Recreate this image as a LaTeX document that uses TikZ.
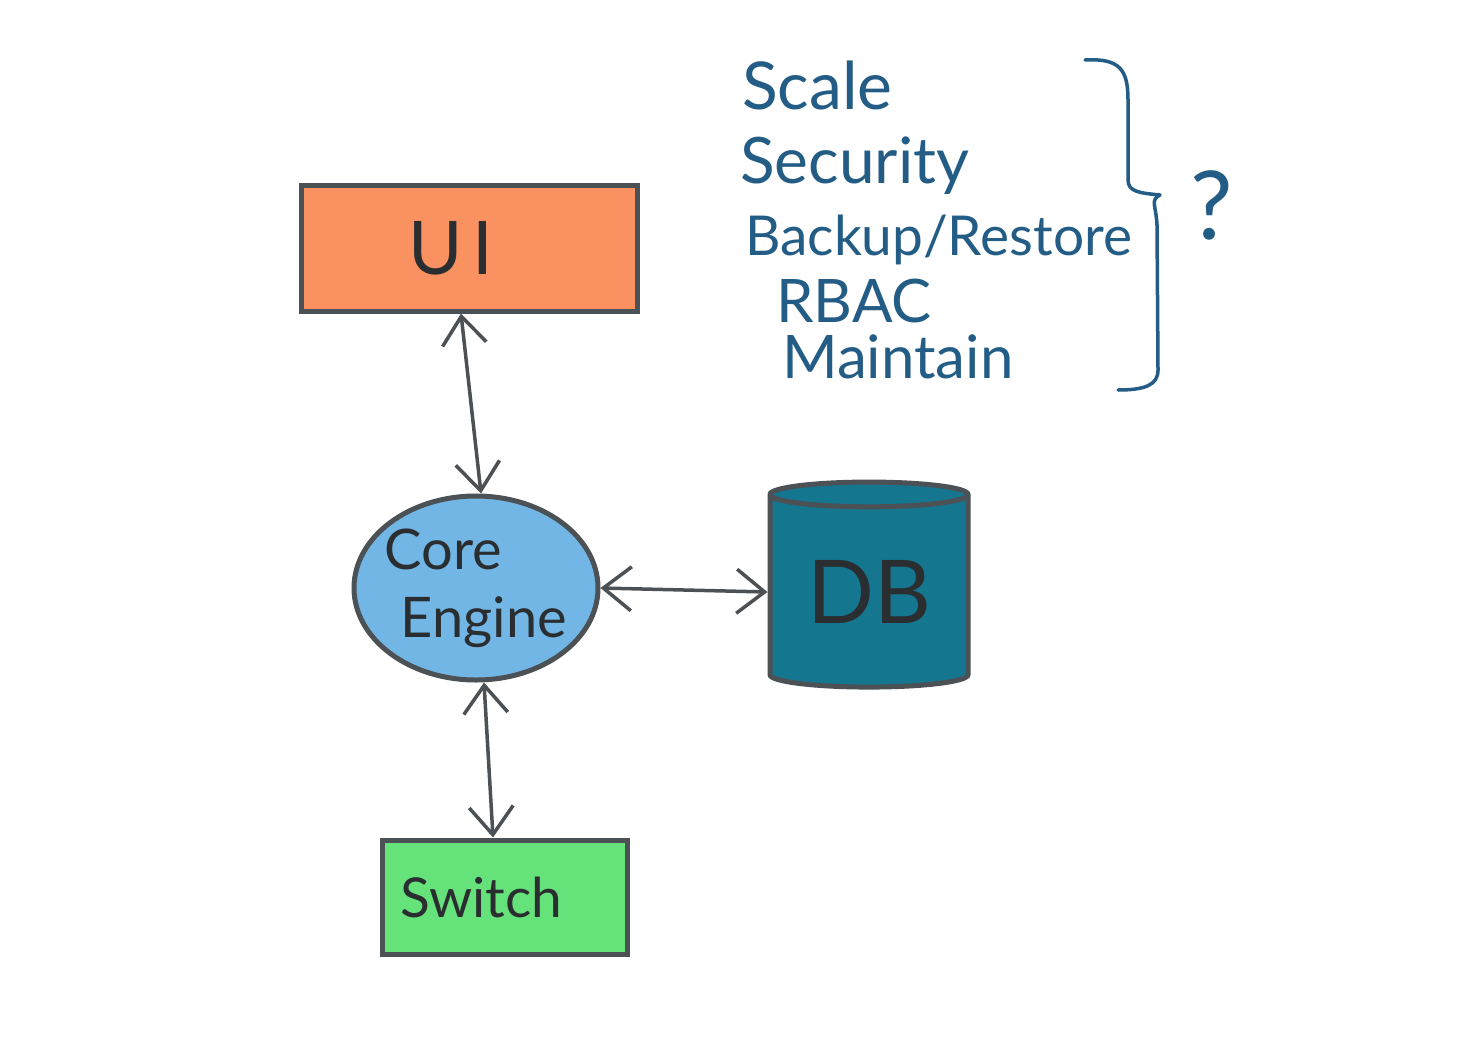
\documentclass[tikz,border=0pt]{standalone}
\usepackage{fontspec}
\setmainfont{Lato}
\usetikzlibrary{shapes.geometric,arrows.meta}
\definecolor{uiorange}{HTML}{FA9160}
\definecolor{coreblue}{HTML}{72B6E6}
\definecolor{dbteal}{HTML}{15768F}
\definecolor{swgreen}{HTML}{66E27A}
\definecolor{inkblue}{HTML}{235C85}
\definecolor{pen}{HTML}{4B5154}
\definecolor{textink}{HTML}{2A2E30}
\newcommand{\fsz}[1]{\fontsize{#1}{#1}\selectfont}
\tikzset{
  boxstyle/.style={draw=pen, line width=5pt, inner sep=0pt, text=textink},
  link/.style={draw=pen, line width=3.5pt, line cap=round,
     {Straight Barb[length=28pt,width=44pt,line width=3.5pt]}-{Straight Barb[length=28pt,width=44pt,line width=3.5pt]}},
  listtext/.style={text=inkblue, anchor=base west, inner sep=0pt},
}
\begin{document}
\begin{tikzpicture}[x=1pt,y=-1pt]
\useasboundingbox[fill=white] (0,0) rectangle (1471,1046);

% UI
\node[boxstyle, fill=uiorange, minimum width=336pt, minimum height=126pt] (ui) at (469,248)
  {\fsz{74}\hspace*{-36pt}U\kern10pt I};

% Core Engine
\node[boxstyle, ellipse, fill=coreblue, minimum width=244pt, minimum height=184pt] (core) at (476,588) {};
\node[text=textink, inner sep=0pt, align=left, font=\fontsize{56}{68}\selectfont] (coretext) at (core.center)
  {Core\\\hspace*{16pt}Engine};

% DB
\node[boxstyle, cylinder, shape border rotate=90, aspect=0.2, fill=dbteal,
      minimum width=198pt, minimum height=205pt] (db) at (869,592) {\raisebox{-14pt}{\fsz{88}DB}};

% Switch
\node[boxstyle, fill=swgreen, minimum width=245pt, minimum height=114pt] (sw) at (505,897)
  {\fsz{55}\hspace*{-48pt}Switch};

% connectors
\draw[link] ([xshift=-8pt]ui.south) -- ([xshift=5pt]core.north);
\draw[link] (core.east) -- (db.west);
\draw[link] ([xshift=8pt]core.south) -- ([xshift=-12pt]sw.north);

% list
\node[listtext] (l1) at (742,110) {\fsz{66}Scale};
\node[listtext] (l2) at (740,183) {\fsz{64}Security};
\node[listtext] (l3) at (745,255) {\fsz{55}Backup/Restore};
\node[listtext] (l4) at (776,322) {\fsz{60}RBAC};
\node[listtext] (l5) at (782,378) {\fsz{60}Maintain};

% brace
\coordinate (bt) at (1085,60);
\coordinate (bm) at (1160,195);
\coordinate (bb) at (1118,390);
\draw[inkblue, line width=3.5pt, line cap=round, line join=round]
  (bt) .. controls (1120,58) and (1128,70) .. (1128,100)
  -- (1128,180) .. controls (1128,192) and (1140,193) .. (bm)
  .. controls (1150,200) and (1156,205) .. (1157,225)
  -- (1158,370) .. controls (1158,385) and (1145,390) .. (bb);

\node[text=inkblue, inner sep=0pt] (q) at (1212,205) {\fsz{95}?};
\end{tikzpicture}
\end{document}
